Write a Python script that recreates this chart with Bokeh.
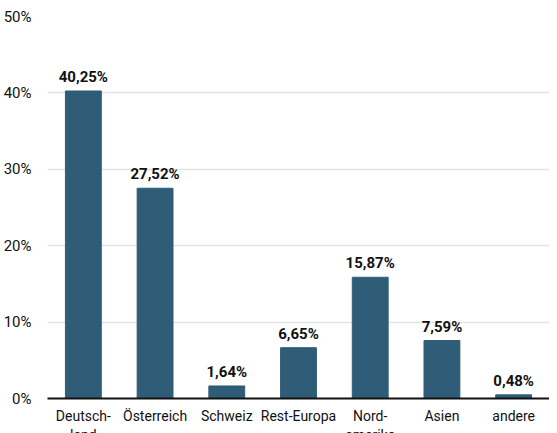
from bokeh.plotting import figure
from bokeh.models import ColumnDataSource, FixedTicker, LabelSet, Range1d
from bokeh.core.properties import value
from bokeh.embed import file_html
from bokeh.resources import INLINE

categories = ["Deutsch-\nland", "Österreich", "Schweiz", "Rest-Europa", "Nord-\namerika", "Asien", "andere"]
values = [40.25, 27.52, 1.64, 6.65, 15.87, 7.59, 0.48]
value_labels = ["40,25%", "27,52%", "1,64%", "6,65%", "15,87%", "7,59%", "0,48%"]
y_ticks = [0, 10, 20, 30, 40, 50]

FONT = "Roboto"

src = ColumnDataSource(dict(cat=categories, val=values, lab=value_labels))

p = figure(x_range=categories, y_range=Range1d(0, 50), width=549, height=445,
           output_backend="svg", toolbar_location=None,
           min_border_left=39, min_border_right=0, min_border_top=16, min_border_bottom=30)
p.outline_line_color = None
p.background_fill_color = "white"

p.vbar(x="cat", top="val", width=0.5, source=src, color="#2f5d78")

labels = LabelSet(x="cat", y="val", text="lab", source=src, text_align="center",
                  text_baseline="bottom", y_offset=5, text_font=value(FONT),
                  text_font_style="bold", text_font_size="15px", text_color="#111111")
p.add_layout(labels)

p.yaxis.ticker = FixedTicker(ticks=y_ticks)
p.yaxis.major_label_overrides = {t: f"{t}%" for t in y_ticks}
p.yaxis.axis_line_color = None
p.yaxis.major_tick_line_color = None
p.yaxis.minor_tick_line_color = None
p.yaxis.major_label_text_font = FONT
p.yaxis.major_label_text_font_size = "15px"
p.yaxis.major_label_text_color = "#111111"
p.yaxis.major_label_standoff = 10

p.xaxis.axis_line_color = "#111111"
p.xaxis.axis_line_width = 2
p.xaxis.major_tick_line_color = None
p.xaxis.major_label_text_font = FONT
p.xaxis.major_label_text_font_size = "14px"
p.xaxis.major_label_text_color = "#111111"
p.xaxis.major_label_standoff = 3

p.xgrid.grid_line_color = None
p.ygrid.grid_line_color = "#e3e3e3"
p.ygrid.grid_line_width = 1.5

open("out.html", "w").write(file_html(p, INLINE))
